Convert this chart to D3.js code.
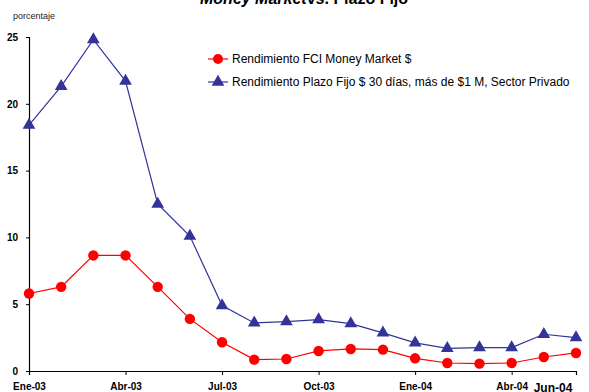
<!DOCTYPE html>
<html>
<head>
<meta charset="utf-8">
<script src="https://cdn.jsdelivr.net/npm/d3@7"></script>
<style>
  body { margin: 0; background: #fff; }
  text { font-family: "Liberation Sans", Arial, sans-serif; }
</style>
</head>
<body>
<div id="chart"></div>
<script>
// monthly data, Ene-03 .. Jun-04
var months = ["Ene-03", "Feb-03", "Mar-03", "Abr-03", "May-03", "Jun-03", "Jul-03", "Ago-03", "Sep-03",
  "Oct-03", "Nov-03", "Dic-03", "Ene-04", "Feb-04", "Mar-04", "Abr-04", "May-04", "Jun-04"];
var moneyMarket = [5.8, 6.3, 8.65, 8.65, 6.3, 3.9, 2.15, 0.85, 0.9, 1.5, 1.65, 1.6, 0.95, 0.6, 0.55, 0.6, 1.05, 1.35];
var plazoFijo = [18.4, 21.3, 24.8, 21.7, 12.5, 10.1, 4.9, 3.6, 3.7, 3.85, 3.55, 2.85, 2.1, 1.7, 1.75, 1.75, 2.75, 2.5];
var xTickLabels = ["Ene-03", "Abr-03", "Jul-03", "Oct-03", "Ene-04", "Abr-04"];
var yTicks = [0, 5, 10, 15, 20, 25];
var seriesNames = ["Rendimiento FCI Money Market $", "Rendimiento Plazo Fijo $ 30 días, más de $1 M, Sector Privado"];

var svgWidth = 589;
var svgHeight = 392;
var margin = { top: 37, right: 13, bottom: 21, left: 29 };
var width = svgWidth - margin.left - margin.right;
var height = svgHeight - margin.top - margin.bottom;

var svg = d3.select("#chart")
  .append("svg")
  .attr("width", svgWidth)
  .attr("height", svgHeight);

var chartGroup = svg.append("g")
  .attr("transform", `translate(${margin.left}, ${margin.top})`);

var xScale = d3.scalePoint()
  .domain(months)
  .range([0, width]);

var yScale = d3.scaleLinear()
  .domain([0, 25])
  .range([height, 0]);

// title (partly cut at the top, as in the original)
var title = svg.append("text")
  .attr("x", 200)
  .attr("y", 4)
  .attr("font-size", "16px")
  .attr("font-weight", "bold");
title.append("tspan").attr("font-style", "italic").text("Money Market");
title.append("tspan").text("vs. Plazo Fijo");

svg.append("text")
  .attr("x", 13)
  .attr("y", 19)
  .attr("font-size", "9px")
  .attr("fill", "#222")
  .text("porcentaje");

// axes
var leftAxis = d3.axisLeft(yScale).tickValues(yTicks).tickSize(3).tickPadding(8);
var bottomAxis = d3.axisBottom(xScale).tickValues(xTickLabels).tickSize(4).tickPadding(8);

var yAxis = chartGroup.append("g").call(leftAxis);
var xAxis = chartGroup.append("g")
  .attr("transform", `translate(0, ${height})`)
  .call(bottomAxis);

[yAxis, xAxis].forEach(function(ax) {
  ax.select(".domain").attr("stroke", "#000").attr("stroke-width", 1.2);
  ax.selectAll("text")
    .attr("font-size", "10px")
    .attr("font-weight", "bold")
    .attr("fill", "#000")
    .style("font-family", "'Liberation Sans', Arial, sans-serif");
});
xAxis.select(".tick").select("line").remove();

// last month label, larger, cut off at the right edge
xAxis.append("text")
  .attr("x", xScale("Jun-04") - 23)
  .attr("y", 21)
  .attr("font-size", "12px")
  .attr("font-weight", "bold")
  .attr("fill", "#000")
  .text("Jun-04");

// lines
var line = d3.line()
  .x((d, i) => xScale(months[i]))
  .y(d => yScale(d));

chartGroup.append("path")
  .datum(plazoFijo)
  .attr("fill", "none")
  .attr("stroke", "#333399")
  .attr("stroke-width", 1.2)
  .attr("d", line);

chartGroup.append("path")
  .datum(moneyMarket)
  .attr("fill", "none")
  .attr("stroke", "#ff0000")
  .attr("stroke-width", 1.2)
  .attr("d", line);

var triangle = d3.symbol().type(d3.symbolTriangle).size(70);

chartGroup.selectAll(".tri")
  .data(plazoFijo)
  .enter()
  .append("path")
  .attr("class", "tri")
  .attr("d", triangle)
  .attr("transform", (d, i) => `translate(${xScale(months[i])}, ${yScale(d)})`)
  .attr("fill", "#333399");

chartGroup.selectAll(".dot")
  .data(moneyMarket)
  .enter()
  .append("circle")
  .attr("class", "dot")
  .attr("cx", (d, i) => xScale(months[i]))
  .attr("cy", d => yScale(d))
  .attr("r", 5.2)
  .attr("fill", "#ff0000");

// legend
var legend = svg.append("g").attr("transform", "translate(208, 59)");
var legendColors = ["#ff0000", "#333399"];
seriesNames.forEach(function(name, i) {
  var row = legend.append("g").attr("transform", `translate(0, ${i * 23})`);
  row.append("line")
    .attr("x1", 0).attr("x2", 20)
    .attr("stroke", legendColors[i])
    .attr("stroke-width", 1.2);
  if (i === 0) {
    row.append("circle").attr("cx", 10).attr("r", 5).attr("fill", legendColors[i]);
  } else {
    row.append("path").attr("d", triangle).attr("transform", "translate(10, 0)").attr("fill", legendColors[i]);
  }
  row.append("text")
    .attr("x", 24)
    .attr("y", 4)
    .attr("font-size", "12px")
    .attr("fill", "#000")
    .text(name);
});
</script>
</body>
</html>
